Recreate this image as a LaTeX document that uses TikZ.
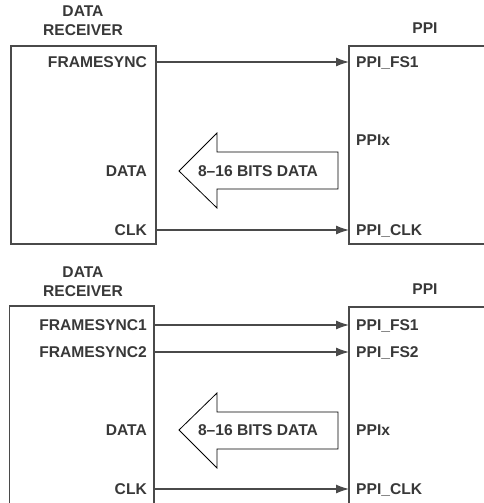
\documentclass[tikz,border=0pt]{standalone}
\usepackage{fontspec}
\setmainfont{Liberation Sans}
\usetikzlibrary{arrows.meta}
\definecolor{txt}{HTML}{383838}
\definecolor{boxc}{HTML}{4A4A4A}
\begin{document}
\begin{tikzpicture}[x=1pt,y=-1pt,
  lbl/.style={font=\bfseries\fontsize{15.6}{18}\selectfont, text=txt, inner sep=0pt, text height=11.2pt, text depth=0pt},
  lblr/.style={lbl, anchor=east},
  lbll/.style={lbl, anchor=west},
  ttl/.style={font=\bfseries\fontsize{15.6}{18.5}\selectfont, text=txt, inner sep=0pt, align=center, anchor=north},
  blk/.style={draw=boxc, line width=1.6pt, inner sep=0pt, outer sep=0pt, anchor=north west},
  sig/.style={draw=boxc, line width=1.2pt, -{Latex[length=13pt,width=9pt]}},
  bigarrow/.style={draw=black, line width=0.8pt, fill=white, line join=miter},
]
\useasboundingbox (0,0) rectangle (484,503);
\clip (0,0) rectangle (484,503);

% ---------- top panel ----------
\node[ttl] (t1) at (83,6) {DATA\\RECEIVER};
\node[ttl] (p1t) at (425,23) {PPI};
\node[blk, minimum width=145pt, minimum height=198pt] (rx1) at (11,46) {};
\node[blk, minimum width=200pt, minimum height=198pt] (ppi1) at (349,46) {};

\node[lblr] (fsA) at (147,62) {FRAMESYNC};
\node[lblr] (dA) at (147,171) {DATA};
\node[lblr] (cA) at (147,230) {CLK};
\node[lbll] (pfsA) at (356,62) {PPI\_FS1};
\node[lbll] (pxA) at (356,140) {PPIx};
\node[lbll] (pcA) at (356,230) {PPI\_CLK};

\draw[sig] (rx1.east |- fsA) -- (ppi1.west |- fsA);
\draw[sig] (rx1.east |- cA) -- (ppi1.west |- cA);

\draw[bigarrow] (179,171) -- (217,133) -- (217,152) -- (338,152) -- (338,189) -- (217,189) -- (217,208) -- cycle;
\node[lbl] (bA) at (258,171) {8–16 BITS DATA};

% ---------- bottom panel ----------
\node[ttl] (t2) at (83,267) {DATA\\RECEIVER};
\node[ttl] (p2t) at (425,284) {PPI};
\node[blk, minimum width=144.5pt, minimum height=300pt] (rx2) at (9.5,306) {};
\node[blk, minimum width=200pt, minimum height=300pt] (ppi2) at (349,307) {};

\node[lblr] (fs1B) at (147,325) {FRAMESYNC1};
\node[lblr] (fs2B) at (147,352) {FRAMESYNC2};
\node[lblr] (dB) at (147,430) {DATA};
\node[lblr] (cB) at (147,489) {CLK};
\node[lbll] (pfs1B) at (356,325) {PPI\_FS1};
\node[lbll] (pfs2B) at (356,352) {PPI\_FS2};
\node[lbll] (pxB) at (356,430) {PPIx};
\node[lbll] (pcB) at (356,489) {PPI\_CLK};

\draw[sig] (rx2.east |- fs1B) -- (ppi2.west |- fs1B);
\draw[sig] (rx2.east |- fs2B) -- (ppi2.west |- fs2B);
\draw[sig] (rx2.east |- cB) -- (ppi2.west |- cB);

\draw[bigarrow] (179,430) -- (217,393) -- (217,412) -- (338,412) -- (338,449) -- (217,449) -- (217,468) -- cycle;
\node[lbl] (bB) at (258,430) {8–16 BITS DATA};
\end{tikzpicture}
\end{document}
